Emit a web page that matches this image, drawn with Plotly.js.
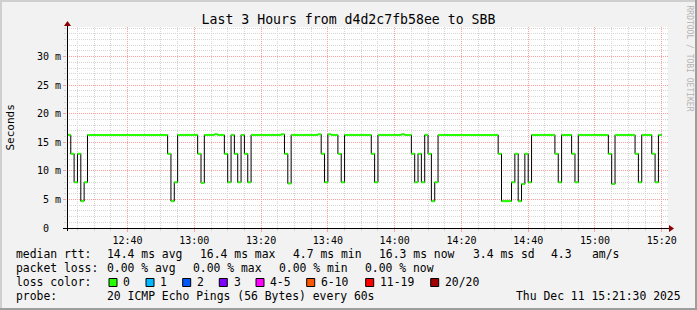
<!DOCTYPE html>
<html><head><meta charset="utf-8">
<script src="https://cdn.plot.ly/plotly-3.0.1.min.js"></script>
<style>html,body{margin:0;padding:0;background:#f2f2f2;}#chart{width:697px;height:310px;}</style>
</head><body><div id="chart"></div>
<script>
const DAY = '2025-12-11 ';
// times at which the median rtt changes (step data, 60 s samples); last entry = end of data
const changeTimes = ['12:21','12:22','12:23','12:24','12:25','12:26','12:27','12:28','12:52','12:53','12:54','12:55','13:01','13:02','13:03','13:06','13:07','13:09','13:10','13:11','13:12','13:13','13:14','13:15','13:16','13:17','13:26','13:27','13:28','13:29','13:37','13:38','13:39','13:40','13:41','13:43','13:44','13:45','13:53','13:54','13:55','14:02','14:03','14:05','14:06','14:07','14:08','14:09','14:10','14:11','14:12','14:13','14:31','14:32','14:35','14:36','14:37','14:38','14:39','14:40','14:41','14:48','14:49','14:50','14:53','14:54','14:55','15:04','15:05','15:06','15:12','15:13','15:14','15:17','15:18','15:19','15:20'];
// median rtt in ms
const medianRtt = [16.4,16.3,13.0,8.0,13.0,4.7,8.0,16.3,13.0,4.7,8.0,16.3,13.0,7.9,16.3,16.4,16.3,13.0,8.0,16.3,13.0,8.0,16.3,13.0,8.0,16.3,16.4,13.0,7.8,16.3,16.4,13.0,8.0,16.4,16.3,13.0,8.0,16.3,13.0,8.0,16.3,16.4,16.3,13.0,8.0,13.0,8.0,16.3,13.0,4.7,8.0,16.3,13.0,4.7,8.0,13.0,4.7,7.7,13.0,8.0,16.3,13.0,8.0,16.3,13.0,8.0,16.3,13.0,7.7,16.3,13.0,8.0,16.3,13.0,8.0,16.3,16.3];

const xTickLabels = ['12:40','13:00','13:20','13:40','14:00','14:20','14:40','15:00','15:20'];
const yTickVals = [0,5,10,15,20,25,30];
const yTickText = ['0\u00a0\u00a0','5 m','10 m','15 m','20 m','25 m','30 m'];

const rttStatNames = ['avg','max','min','now','sd'];
const rttStatValues = [14.4,16.4,4.7,16.3,3.4];
const amsValue = 4.3;
const lossStatNames = ['avg','max','min','now'];
const lossStatValues = [0,0,0,0];
const lossLabels = ['0','1','2','3','4-5','6-10','11-19','20/20'];
const lossColors = ['#26ff00','#00b8ff','#0059ff','#7e00ff','#ff00ff','#ff5500','#ff0000','#a10000'];
const probeText = '20 ICMP Echo Pings (56 Bytes) every 60s';
const stampText = 'Thu Dec 11 15:21:30 2025';

// ---- geometry helpers (pixel -> paper) ----
const W = 697, H = 310, PL = 67, PR = 668, PT = 27, PB = 228;
const px = x => (x - PL) / (PR - PL);
const py = y => (PB - y) / (PB - PT);
const MONO = 'DejaVu Sans Mono';

const tFull = changeTimes.map(t => DAY + t);

// green horizontal segments
const gx = [], gy = [];
for (let i = 0; i < tFull.length - 1; i++) {
  gx.push(tFull[i], tFull[i+1], null);
  gy.push(medianRtt[i], medianRtt[i], null);
}

const traces = [
  {x: tFull, y: medianRtt, type: 'scatter', mode: 'lines', line: {shape: 'hv', color: '#000000', width: 1}, hoverinfo: 'skip'},
  {x: gx, y: gy, type: 'scatter', mode: 'lines', line: {color: lossColors[0], width: 2}, connectgaps: false, hoverinfo: 'skip'}
];

const ann = [];
function txt(x, y, text, opts) {
  ann.push(Object.assign({xref: 'paper', yref: 'paper', x: px(x), y: py(y), text: text, showarrow: false,
    xanchor: 'left', yanchor: 'middle', borderpad: 0, borderwidth: 0,
    font: {family: MONO, size: 11.4, color: '#000'}}, opts || {}));
}
// legend row 1
txt(16, 254.3, 'median rtt:');
const rttX = [107.3, 200, 293.3, 379.3, 472.7];
rttStatNames.forEach((n, i) => txt(rttX[i], 254.3, rttStatValues[i].toFixed(1) + ' ms ' + n));
txt(551, 254.3, amsValue.toFixed(1));
txt(592.3, 254.3, 'am/s');
// row 2
txt(16, 268.3, 'packet loss:');
const lossX = [107.3, 193.3, 279.3, 365];
lossStatNames.forEach((n, i) => txt(lossX[i], 268.3, lossStatValues[i].toFixed(2) + ' % ' + n));
// row 3
txt(16, 282.3, 'loss color:');
const boxX = [109, 146, 182.7, 219.3, 256, 306.7, 365.7, 430.7];
const shapes = [];
lossLabels.forEach((l, i) => {
  shapes.push({type: 'rect', xref: 'paper', yref: 'paper', x0: px(boxX[i]), x1: px(boxX[i] + 8), y0: py(278.5), y1: py(286.5),
    fillcolor: lossColors[i], line: {color: '#000', width: 1}});
  txt(boxX[i] + 14.3, 282.3, l);
});
// row 4
txt(16, 296, 'probe:');
txt(107.3, 296, probeText);
txt(681, 296, stampText, {xanchor: 'right'});
// y title
ann.push({xref: 'paper', yref: 'paper', x: px(10), y: py(127.5), text: 'Seconds', textangle: -90, showarrow: false,
  xanchor: 'center', yanchor: 'middle', font: {family: MONO, size: 11, color: '#000'}});
// watermark
ann.push({xref: 'paper', yref: 'paper', x: px(689), y: py(58.5), text: 'RRDTOOL / TOBI OETIKER', textangle: 90, showarrow: false,
  xanchor: 'center', yanchor: 'middle', font: {family: MONO, size: 8, color: '#b4b4b4'}});

// frame shading
shapes.push({type: 'rect', xref: 'paper', yref: 'paper', x0: px(0), x1: px(2), y0: py(0), y1: py(310), fillcolor: '#cfcfcf', line: {width: 0}, layer: 'below'});
shapes.push({type: 'rect', xref: 'paper', yref: 'paper', x0: px(0), x1: px(697), y0: py(0), y1: py(2), fillcolor: '#cfcfcf', line: {width: 0}, layer: 'below'});
shapes.push({type: 'rect', xref: 'paper', yref: 'paper', x0: px(695), x1: px(697), y0: py(0), y1: py(310), fillcolor: '#9e9e9e', line: {width: 0}, layer: 'below'});
shapes.push({type: 'rect', xref: 'paper', yref: 'paper', x0: px(0), x1: px(697), y0: py(308), y1: py(310), fillcolor: '#9e9e9e', line: {width: 0}, layer: 'below'});
// axes lines + arrows
shapes.push({type: 'line', xref: 'paper', yref: 'paper', x0: px(63), x1: px(670), y0: py(228.5), y1: py(228.5), line: {color: '#000', width: 1}});
shapes.push({type: 'line', xref: 'paper', yref: 'paper', x0: px(67.5), x1: px(67.5), y0: py(231), y1: py(25), line: {color: '#000', width: 1}});
shapes.push({type: 'path', xref: 'paper', yref: 'paper', path: `M ${px(669)} ${py(225)} L ${px(674)} ${py(228.5)} L ${px(669)} ${py(232)} Z`, fillcolor: '#8b0000', line: {width: 0}});
shapes.push({type: 'path', xref: 'paper', yref: 'paper', path: `M ${px(64)} ${py(26)} L ${px(67.5)} ${py(21)} L ${px(71)} ${py(26)} Z`, fillcolor: '#8b0000', line: {width: 0}});

const layout = {
  width: W, height: H,
  margin: {l: PL, r: W - PR, t: PT, b: H - PB, pad: 0},
  paper_bgcolor: '#f2f2f2', plot_bgcolor: '#ffffff',
  showlegend: false,
  title: {text: 'Last 3 Hours from d4d2c7fb58ee to SBB', x: 0.5, xanchor: 'center', y: 1 - 19.3 / H, yanchor: 'middle',
    font: {family: MONO, size: 13.2, color: '#000'}},
  xaxis: {type: 'date', range: [DAY + '12:21:52', DAY + '15:21:52'],
    tickmode: 'array', tickvals: xTickLabels.map(t => DAY + t), ticktext: xTickLabels,
    tickfont: {family: MONO, size: 10, color: '#000'},
    ticks: 'outside', ticklen: 3, tickcolor: '#ff9e9e',
    showgrid: true, gridcolor: '#ff9e9e', griddash: '1px,1px', gridwidth: 1,
    minor: {tickmode: 'linear', tick0: DAY + '12:00', dtick: 300000, showgrid: true, gridcolor: '#d6d6d6', griddash: '1px,1px', ticks: 'outside', ticklen: 2, tickcolor: '#d6d6d6'},
    showline: false, zeroline: false, fixedrange: true},
  yaxis: {range: [0, 35.2], tickmode: 'array', tickvals: yTickVals, ticktext: yTickText,
    tickfont: {family: MONO, size: 10, color: '#000'},
    ticks: 'outside', ticklen: 3, tickcolor: '#ff9e9e',
    showgrid: true, gridcolor: '#ff9e9e', griddash: '1px,1px', gridwidth: 1,
    minor: {tickmode: 'linear', tick0: 0, dtick: 1, showgrid: true, gridcolor: '#d6d6d6', griddash: '1px,1px', ticks: 'outside', ticklen: 2, tickcolor: '#d6d6d6'},
    showline: false, zeroline: false, fixedrange: true},
  annotations: ann,
  shapes: shapes
};
Plotly.newPlot('chart', traces, layout, {displayModeBar: false, staticPlot: true});
</script></body></html>
